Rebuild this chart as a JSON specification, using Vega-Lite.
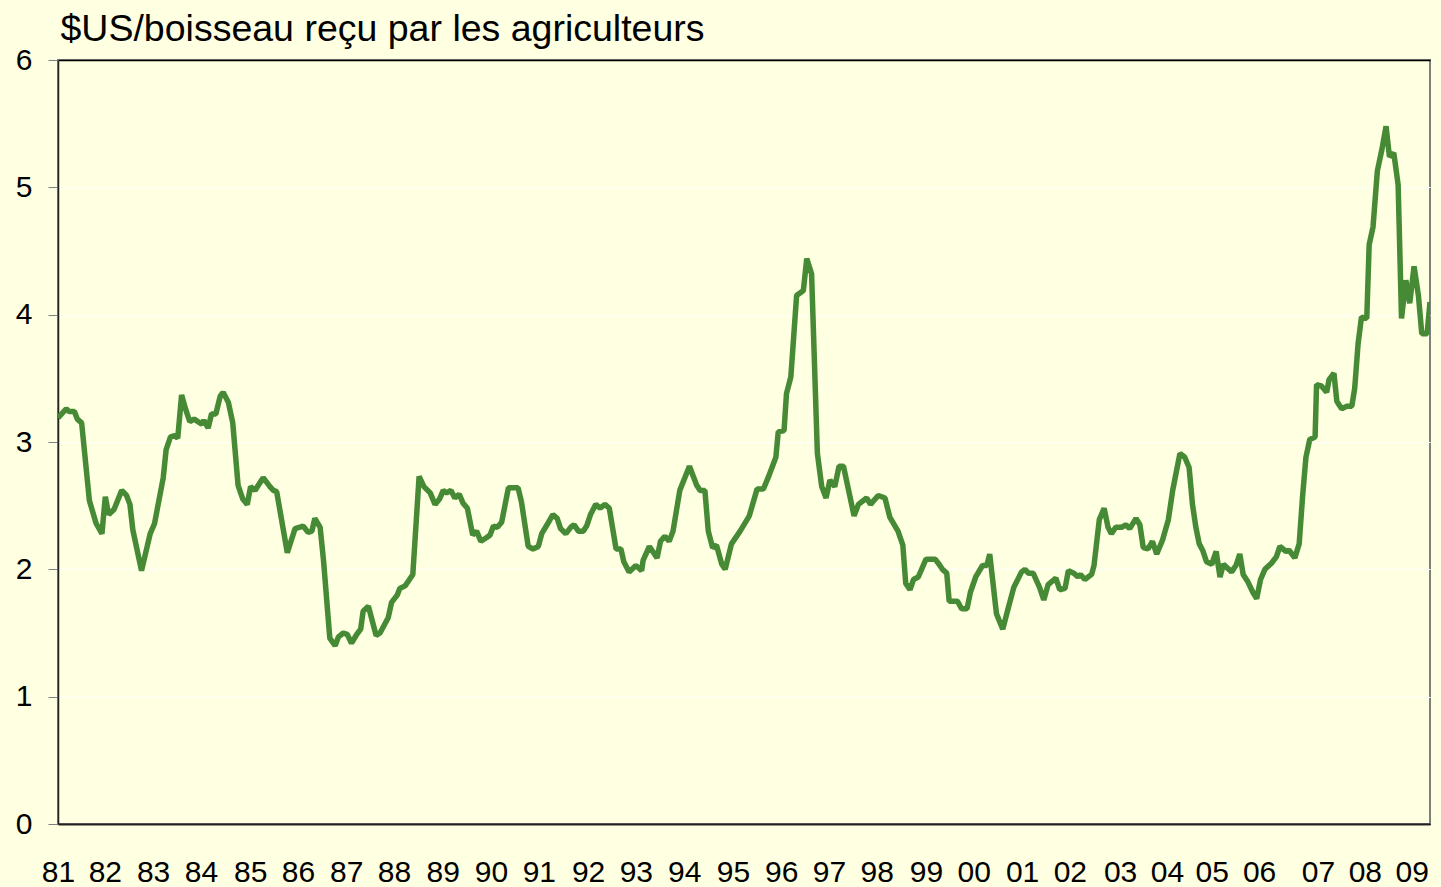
{
  "$schema": "https://vega.github.io/schema/vega-lite/v6.json",
  "width": 1372,
  "height": 764,
  "autosize": {"type": "none"},
  "padding": {"left": 58, "top": 60, "right": 11, "bottom": 63},
  "background": "#FFFFE1",
  "config": {"view": {"stroke": "#808080", "strokeWidth": 2, "fill": "#FFFFE1"}, "font": "Liberation Sans"},
  "data": {"values": [
    {"year": 1981.00, "price": 3.19}, {"year": 1981.17, "price": 3.26}, {"year": 1981.23, "price": 3.24}, {"year": 1981.34, "price": 3.24},
    {"year": 1981.40, "price": 3.18}, {"year": 1981.49, "price": 3.15}, {"year": 1981.65, "price": 2.54}, {"year": 1981.79, "price": 2.36},
    {"year": 1981.91, "price": 2.28}, {"year": 1981.98, "price": 2.57}, {"year": 1982.05, "price": 2.43}, {"year": 1982.16, "price": 2.47},
    {"year": 1982.32, "price": 2.62}, {"year": 1982.42, "price": 2.58}, {"year": 1982.49, "price": 2.51}, {"year": 1982.55, "price": 2.31},
    {"year": 1982.73, "price": 1.99}, {"year": 1982.91, "price": 2.28}, {"year": 1983.00, "price": 2.36}, {"year": 1983.18, "price": 2.72},
    {"year": 1983.24, "price": 2.94}, {"year": 1983.33, "price": 3.04}, {"year": 1983.42, "price": 3.05}, {"year": 1983.48, "price": 3.03},
    {"year": 1983.56, "price": 3.37}, {"year": 1983.65, "price": 3.25}, {"year": 1983.73, "price": 3.16}, {"year": 1983.82, "price": 3.18},
    {"year": 1983.98, "price": 3.14}, {"year": 1984.02, "price": 3.17}, {"year": 1984.11, "price": 3.11}, {"year": 1984.18, "price": 3.22},
    {"year": 1984.27, "price": 3.22}, {"year": 1984.36, "price": 3.36}, {"year": 1984.42, "price": 3.39}, {"year": 1984.53, "price": 3.31},
    {"year": 1984.62, "price": 3.15}, {"year": 1984.73, "price": 2.66}, {"year": 1984.83, "price": 2.55}, {"year": 1984.92, "price": 2.51},
    {"year": 1984.99, "price": 2.65}, {"year": 1985.08, "price": 2.62}, {"year": 1985.25, "price": 2.72}, {"year": 1985.39, "price": 2.65},
    {"year": 1985.46, "price": 2.62}, {"year": 1985.53, "price": 2.61}, {"year": 1985.75, "price": 2.13}, {"year": 1985.91, "price": 2.32},
    {"year": 1986.08, "price": 2.34}, {"year": 1986.18, "price": 2.29}, {"year": 1986.26, "price": 2.30}, {"year": 1986.32, "price": 2.40},
    {"year": 1986.43, "price": 2.33}, {"year": 1986.50, "price": 2.07}, {"year": 1986.63, "price": 1.46}, {"year": 1986.74, "price": 1.40},
    {"year": 1986.81, "price": 1.47}, {"year": 1986.91, "price": 1.50}, {"year": 1986.99, "price": 1.49}, {"year": 1987.08, "price": 1.42},
    {"year": 1987.19, "price": 1.49}, {"year": 1987.27, "price": 1.53}, {"year": 1987.32, "price": 1.67}, {"year": 1987.43, "price": 1.71},
    {"year": 1987.59, "price": 1.48}, {"year": 1987.67, "price": 1.50}, {"year": 1987.84, "price": 1.62}, {"year": 1987.91, "price": 1.74},
    {"year": 1988.03, "price": 1.80}, {"year": 1988.08, "price": 1.85}, {"year": 1988.19, "price": 1.87}, {"year": 1988.28, "price": 1.92},
    {"year": 1988.35, "price": 1.96}, {"year": 1988.48, "price": 2.73}, {"year": 1988.58, "price": 2.65}, {"year": 1988.71, "price": 2.60},
    {"year": 1988.81, "price": 2.51}, {"year": 1988.90, "price": 2.55}, {"year": 1988.98, "price": 2.62}, {"year": 1989.05, "price": 2.60},
    {"year": 1989.14, "price": 2.62}, {"year": 1989.22, "price": 2.56}, {"year": 1989.31, "price": 2.59}, {"year": 1989.39, "price": 2.52},
    {"year": 1989.48, "price": 2.48}, {"year": 1989.59, "price": 2.27}, {"year": 1989.67, "price": 2.30}, {"year": 1989.76, "price": 2.22},
    {"year": 1989.88, "price": 2.25}, {"year": 1989.95, "price": 2.27}, {"year": 1990.02, "price": 2.34}, {"year": 1990.10, "price": 2.33},
    {"year": 1990.19, "price": 2.37}, {"year": 1990.33, "price": 2.64}, {"year": 1990.53, "price": 2.64}, {"year": 1990.60, "price": 2.53},
    {"year": 1990.74, "price": 2.18}, {"year": 1990.84, "price": 2.16}, {"year": 1990.95, "price": 2.18}, {"year": 1991.02, "price": 2.28},
    {"year": 1991.13, "price": 2.35}, {"year": 1991.25, "price": 2.43}, {"year": 1991.34, "price": 2.40}, {"year": 1991.41, "price": 2.32},
    {"year": 1991.52, "price": 2.28}, {"year": 1991.62, "price": 2.33}, {"year": 1991.69, "price": 2.35}, {"year": 1991.78, "price": 2.30},
    {"year": 1991.88, "price": 2.30}, {"year": 1991.95, "price": 2.34}, {"year": 1992.03, "price": 2.43}, {"year": 1992.14, "price": 2.51},
    {"year": 1992.23, "price": 2.48}, {"year": 1992.33, "price": 2.51}, {"year": 1992.42, "price": 2.48}, {"year": 1992.56, "price": 2.16},
    {"year": 1992.66, "price": 2.16}, {"year": 1992.72, "price": 2.06}, {"year": 1992.83, "price": 1.98}, {"year": 1992.97, "price": 2.03},
    {"year": 1993.09, "price": 1.99}, {"year": 1993.12, "price": 2.07}, {"year": 1993.25, "price": 2.18}, {"year": 1993.41, "price": 2.09},
    {"year": 1993.48, "price": 2.22}, {"year": 1993.57, "price": 2.26}, {"year": 1993.66, "price": 2.22}, {"year": 1993.74, "price": 2.30},
    {"year": 1993.88, "price": 2.62}, {"year": 1994.08, "price": 2.81}, {"year": 1994.23, "price": 2.66}, {"year": 1994.30, "price": 2.62},
    {"year": 1994.40, "price": 2.62}, {"year": 1994.47, "price": 2.30}, {"year": 1994.56, "price": 2.17}, {"year": 1994.64, "price": 2.19},
    {"year": 1994.75, "price": 2.04}, {"year": 1994.82, "price": 2.00}, {"year": 1994.95, "price": 2.20}, {"year": 1995.13, "price": 2.30},
    {"year": 1995.32, "price": 2.42}, {"year": 1995.48, "price": 2.63}, {"year": 1995.61, "price": 2.63}, {"year": 1995.71, "price": 2.72},
    {"year": 1995.87, "price": 2.88}, {"year": 1995.92, "price": 3.08}, {"year": 1996.04, "price": 3.09}, {"year": 1996.09, "price": 3.38},
    {"year": 1996.18, "price": 3.51}, {"year": 1996.30, "price": 4.15}, {"year": 1996.44, "price": 4.19}, {"year": 1996.51, "price": 4.44},
    {"year": 1996.61, "price": 4.32}, {"year": 1996.73, "price": 2.91}, {"year": 1996.82, "price": 2.65}, {"year": 1996.91, "price": 2.56},
    {"year": 1996.99, "price": 2.70}, {"year": 1997.09, "price": 2.65}, {"year": 1997.18, "price": 2.81}, {"year": 1997.27, "price": 2.81},
    {"year": 1997.49, "price": 2.42}, {"year": 1997.58, "price": 2.51}, {"year": 1997.75, "price": 2.56}, {"year": 1997.83, "price": 2.51},
    {"year": 1997.99, "price": 2.58}, {"year": 1998.13, "price": 2.56}, {"year": 1998.23, "price": 2.41}, {"year": 1998.40, "price": 2.30},
    {"year": 1998.50, "price": 2.19}, {"year": 1998.56, "price": 1.89}, {"year": 1998.65, "price": 1.84}, {"year": 1998.72, "price": 1.92},
    {"year": 1998.82, "price": 1.94}, {"year": 1998.98, "price": 2.08}, {"year": 1999.17, "price": 2.08}, {"year": 1999.25, "price": 2.04},
    {"year": 1999.32, "price": 2.00}, {"year": 1999.41, "price": 1.97}, {"year": 1999.46, "price": 1.75}, {"year": 1999.63, "price": 1.75},
    {"year": 1999.72, "price": 1.69}, {"year": 1999.83, "price": 1.69}, {"year": 1999.90, "price": 1.82}, {"year": 2000.01, "price": 1.94},
    {"year": 2000.15, "price": 2.03}, {"year": 2000.24, "price": 2.03}, {"year": 2000.30, "price": 2.12}, {"year": 2000.44, "price": 1.65},
    {"year": 2000.57, "price": 1.53}, {"year": 2000.68, "price": 1.69}, {"year": 2000.80, "price": 1.86}, {"year": 2000.96, "price": 1.98},
    {"year": 2001.03, "price": 2.00}, {"year": 2001.10, "price": 1.97}, {"year": 2001.20, "price": 1.97}, {"year": 2001.33, "price": 1.86},
    {"year": 2001.42, "price": 1.76}, {"year": 2001.51, "price": 1.88}, {"year": 2001.67, "price": 1.93}, {"year": 2001.75, "price": 1.84},
    {"year": 2001.86, "price": 1.85}, {"year": 2001.93, "price": 1.99}, {"year": 2002.04, "price": 1.97}, {"year": 2002.13, "price": 1.94},
    {"year": 2002.18, "price": 1.96}, {"year": 2002.27, "price": 1.92}, {"year": 2002.41, "price": 1.96}, {"year": 2002.46, "price": 2.03},
    {"year": 2002.57, "price": 2.39}, {"year": 2002.67, "price": 2.48}, {"year": 2002.75, "price": 2.33}, {"year": 2002.82, "price": 2.28},
    {"year": 2002.91, "price": 2.33}, {"year": 2003.03, "price": 2.33}, {"year": 2003.12, "price": 2.35}, {"year": 2003.20, "price": 2.32},
    {"year": 2003.33, "price": 2.40}, {"year": 2003.41, "price": 2.35}, {"year": 2003.48, "price": 2.17}, {"year": 2003.58, "price": 2.16},
    {"year": 2003.67, "price": 2.22}, {"year": 2003.76, "price": 2.12}, {"year": 2003.88, "price": 2.23}, {"year": 2004.00, "price": 2.39},
    {"year": 2004.09, "price": 2.62}, {"year": 2004.24, "price": 2.91}, {"year": 2004.34, "price": 2.88}, {"year": 2004.43, "price": 2.80},
    {"year": 2004.50, "price": 2.51}, {"year": 2004.57, "price": 2.33}, {"year": 2004.64, "price": 2.20}, {"year": 2004.71, "price": 2.15},
    {"year": 2004.79, "price": 2.06}, {"year": 2004.90, "price": 2.04}, {"year": 2004.99, "price": 2.14}, {"year": 2005.07, "price": 1.94},
    {"year": 2005.14, "price": 2.04}, {"year": 2005.31, "price": 1.98}, {"year": 2005.40, "price": 2.03}, {"year": 2005.48, "price": 2.12},
    {"year": 2005.55, "price": 1.96}, {"year": 2005.65, "price": 1.90}, {"year": 2005.75, "price": 1.82}, {"year": 2005.83, "price": 1.77},
    {"year": 2005.91, "price": 1.92}, {"year": 2006.00, "price": 2.00}, {"year": 2006.14, "price": 2.05}, {"year": 2006.24, "price": 2.10},
    {"year": 2006.31, "price": 2.18}, {"year": 2006.44, "price": 2.14}, {"year": 2006.50, "price": 2.15}, {"year": 2006.62, "price": 2.09},
    {"year": 2006.71, "price": 2.20}, {"year": 2006.78, "price": 2.57}, {"year": 2006.85, "price": 2.88}, {"year": 2006.93, "price": 3.02},
    {"year": 2007.04, "price": 3.04}, {"year": 2007.07, "price": 3.45}, {"year": 2007.17, "price": 3.44}, {"year": 2007.28, "price": 3.39},
    {"year": 2007.33, "price": 3.49}, {"year": 2007.43, "price": 3.54}, {"year": 2007.49, "price": 3.32}, {"year": 2007.59, "price": 3.26},
    {"year": 2007.69, "price": 3.28}, {"year": 2007.80, "price": 3.28}, {"year": 2007.86, "price": 3.42}, {"year": 2007.93, "price": 3.77},
    {"year": 2008.00, "price": 3.98}, {"year": 2008.11, "price": 3.97}, {"year": 2008.16, "price": 4.55}, {"year": 2008.24, "price": 4.69},
    {"year": 2008.33, "price": 5.13}, {"year": 2008.42, "price": 5.29}, {"year": 2008.51, "price": 5.48}, {"year": 2008.58, "price": 5.24},
    {"year": 2008.67, "price": 5.27}, {"year": 2008.76, "price": 5.02}, {"year": 2008.83, "price": 3.97}, {"year": 2008.92, "price": 4.27},
    {"year": 2009.00, "price": 4.09}, {"year": 2009.09, "price": 4.38}, {"year": 2009.18, "price": 4.15}, {"year": 2009.25, "price": 3.85},
    {"year": 2009.36, "price": 3.85}, {"year": 2009.42, "price": 4.10}
  ]},
  "mark": {"type": "line", "color": "#468a36", "strokeWidth": 5.5, "strokeJoin": "bevel", "clip": true},
  "encoding": {
    "x": {
      "field": "year", "type": "quantitative",
      "scale": {"domain": [1981, 2009.42], "nice": false, "zero": false},
      "axis": {
        "title": null,
        "values": [1981.0, 1981.97, 1982.97, 1983.96, 1984.98, 1985.97, 1986.97, 1987.96, 1988.97, 1989.97, 1990.96, 1991.98, 1992.97, 1993.97, 1994.98, 1995.98, 1996.97, 1997.96, 1998.98, 1999.97, 2000.97, 2001.96, 2003.0, 2003.97, 2004.9, 2005.88, 2007.1, 2008.07, 2009.04],
        "labelExpr": "format(round(datum.value) % 100, '02d')",
        "ticks": false, "tickSize": 0,
        "labelPadding": 57, "labelBaseline": "alphabetic",
        "labelFontSize": 30, "labelColor": "#000000", "labelFont": "Liberation Sans",
        "labelOverlap": false, "labelFlush": false, "labelBound": false,
        "grid": false,
        "domainColor": "#222222", "domainWidth": 1.5
      }
    },
    "y": {
      "field": "price", "type": "quantitative",
      "scale": {"domain": [0, 6], "nice": false},
      "axis": {
        "title": "$US/boisseau reçu par les agriculteurs",
        "titleAngle": 0, "titleAlign": "left", "titleBaseline": "alphabetic",
        "titleX": 2, "titleY": -20,
        "titleFontSize": 37.5, "titleFontWeight": "normal", "titleColor": "#000000", "titleFont": "Liberation Sans",
        "values": [0, 1, 2, 3, 4, 5, 6],
        "tickSize": 10, "tickColor": "#808080", "tickWidth": 1,
        "labelPadding": 16, "labelFontSize": 30, "labelColor": "#000000", "labelFont": "Liberation Sans",
        "domainColor": "#222222", "domainWidth": 1.5,
        "grid": true,
        "gridColor": {"condition": {"test": "datum.value == 6 || datum.value == 0", "value": "#000000"}, "value": "#FFFFFF"},
        "gridWidth": {"condition": {"test": "datum.value == 6 || datum.value == 0", "value": 1.5}, "value": 1},
        "gridOpacity": 1
      }
    }
  }
}
